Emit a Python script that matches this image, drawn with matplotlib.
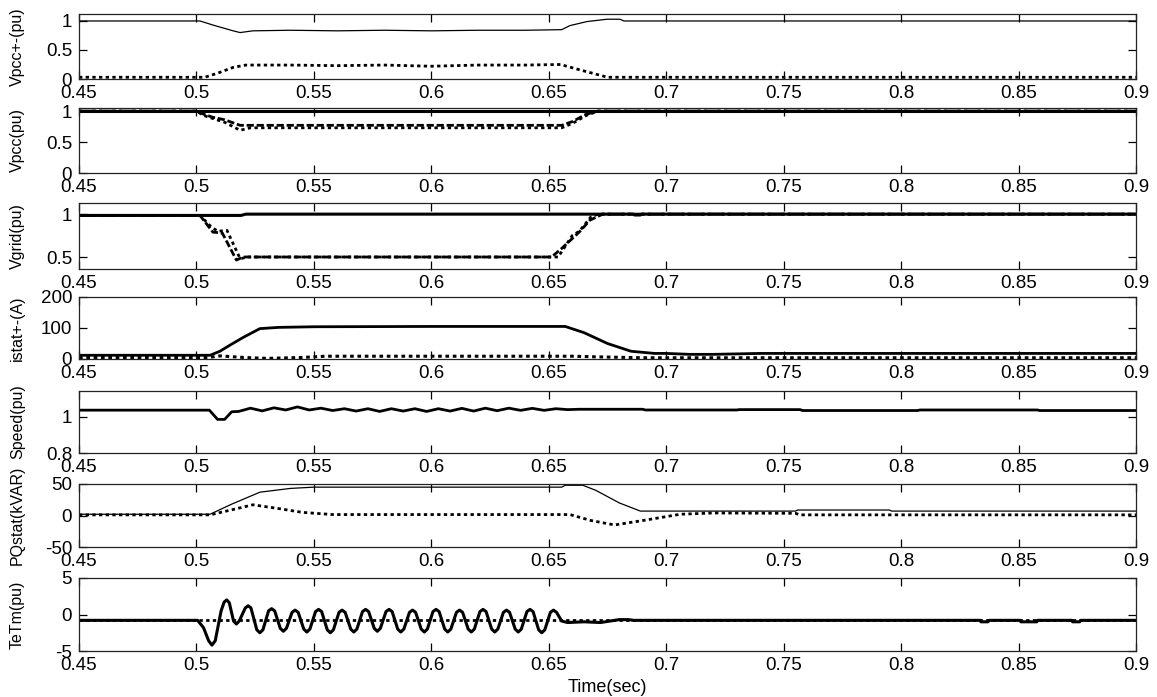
import numpy as np
import matplotlib
matplotlib.use("Agg")
import matplotlib.pyplot as plt

plt.rcParams['font.family'] = ['Liberation Sans', 'DejaVu Sans']

# ---- simulation traces (time in s) ----
vpcc_pos = [(0.45, 1.0), (0.5015, 1.0), (0.507, 0.93), (0.5156, 0.83), (0.5186, 0.80), (0.524, 0.83),
            (0.54, 0.84), (0.56, 0.83), (0.58, 0.84), (0.60, 0.83), (0.62, 0.84), (0.64, 0.84),
            (0.6555, 0.85), (0.659, 0.92), (0.6663, 0.99), (0.6748, 1.03), (0.6803, 1.03),
            (0.682, 1.0), (0.9, 1.0)]
vpcc_neg = [(0.45, 0.03), (0.5035, 0.03), (0.509, 0.10), (0.5156, 0.20), (0.521, 0.24), (0.54, 0.24),
            (0.56, 0.23), (0.58, 0.24), (0.60, 0.22), (0.62, 0.24), (0.64, 0.24), (0.655, 0.25),
            (0.663, 0.16), (0.675, 0.03), (0.9, 0.03)]

vpcc_a = [(0.45, 1.0), (0.9, 1.0)]
vpcc_b = [(0.45, 1.0), (0.5, 1.0), (0.503, 0.95), (0.507, 0.90), (0.512, 0.86), (0.5186, 0.77),
          (0.523, 0.77), (0.6555, 0.77), (0.66, 0.83), (0.666, 0.95), (0.671, 1.0), (0.9, 1.0)]
vpcc_c = [(0.45, 1.0), (0.5, 1.0), (0.503, 0.93), (0.507, 0.88), (0.512, 0.82), (0.5186, 0.69),
          (0.523, 0.73), (0.6555, 0.73), (0.66, 0.80), (0.666, 0.93), (0.671, 1.0), (0.9, 1.0)]

vgrid_a = [(0.45, 0.985), (0.519, 0.985), (0.521, 1.0), (0.686, 1.0), (0.6865, 0.99), (0.689, 0.99),
           (0.6895, 1.0), (0.9, 1.0)]
vgrid_b = [(0.45, 0.985), (0.5015, 0.985), (0.507, 0.79), (0.511, 0.78), (0.517, 0.465), (0.520, 0.50),
           (0.6512, 0.50), (0.6555, 0.60), (0.6633, 0.80), (0.6675, 0.93), (0.673, 1.0), (0.9, 1.0)]
vgrid_c = [(0.45, 0.985), (0.5015, 0.985), (0.506, 0.86), (0.509, 0.80), (0.513, 0.81), (0.5186, 0.48),
           (0.522, 0.50), (0.654, 0.50), (0.66, 0.75), (0.663, 0.80), (0.668, 0.97), (0.671, 1.0),
           (0.9, 1.0)]

istat_pos = [(0.45, 12), (0.5058, 12), (0.51, 25), (0.515, 48), (0.52, 70), (0.527, 98), (0.535, 102),
             (0.55, 104), (0.60, 105), (0.657, 105), (0.665, 85), (0.675, 50), (0.685, 25),
             (0.695, 18), (0.70, 18), (0.71, 15), (0.72, 15), (0.74, 18), (0.9, 18)]
istat_neg = [(0.45, 5), (0.505, 5), (0.51, 10), (0.52, 5), (0.53, 2), (0.545, 5), (0.555, 9),
             (0.66, 9), (0.67, 7), (0.69, 4), (0.9, 4)]

speed = [(0.45, 1.037), (0.5055, 1.037), (0.509, 0.986), (0.512, 0.986), (0.515, 1.028), (0.518, 1.030),
         (0.523, 1.048), (0.528, 1.033), (0.533, 1.050), (0.538, 1.038), (0.543, 1.055), (0.548, 1.038),
         (0.553, 1.048), (0.558, 1.035), (0.563, 1.045), (0.568, 1.032), (0.573, 1.045), (0.578, 1.030),
         (0.583, 1.045), (0.588, 1.032), (0.593, 1.045), (0.598, 1.030), (0.603, 1.045), (0.608, 1.032),
         (0.613, 1.047), (0.618, 1.032), (0.623, 1.048), (0.628, 1.034), (0.633, 1.048), (0.638, 1.036),
         (0.643, 1.047), (0.648, 1.036), (0.653, 1.045), (0.658, 1.040), (0.663, 1.042), (0.668, 1.042),
         (0.69, 1.042), (0.691, 1.038), (0.73, 1.038), (0.731, 1.040), (0.757, 1.040), (0.758, 1.035),
         (0.807, 1.035), (0.808, 1.038), (0.858, 1.038), (0.859, 1.035), (0.9, 1.035)]

pq_p = [(0.45, 2), (0.5058, 2), (0.515, 18), (0.527, 37), (0.54, 43), (0.55, 45), (0.6555, 45),
        (0.657, 48), (0.6645, 48), (0.67, 40), (0.68, 20), (0.689, 7), (0.755, 7), (0.756, 8.7),
        (0.795, 8.7), (0.796, 7), (0.9, 7)]
pq_q = [(0.45, 1), (0.5058, 1), (0.515, 9), (0.524, 17), (0.535, 11), (0.545, 5), (0.558, 1.5),
        (0.659, 1.5), (0.668, -8), (0.678, -15), (0.69, -8), (0.706, 2), (0.72, 4), (0.755, 3.5),
        (0.757, 1), (0.9, 1)]

te = [(0.45, -0.8), (0.5005, -0.8), (0.503, -1.8), (0.5052, -3.6), (0.5066, -4.2), (0.508, -3.6),
      (0.5105, 0.5), (0.5118, 1.7), (0.5129, 2.0), (0.514, 1.6), (0.5158, -0.9), (0.517, -1.3),
      (0.5182, -0.9), (0.5208, 0.9), (0.522, 1.2), (0.5232, 0.9), (0.5257, -2.1), (0.527, -2.5),
      (0.5283, -2.1),
      (0.5307, 0.5), (0.532, 0.8), (0.5333, 0.5), (0.5357, -1.9), (0.537, -2.3), (0.5383, -1.9),
      (0.5407, 0.3), (0.542, 0.6), (0.5433, 0.3), (0.5457, -2.0), (0.547, -2.4), (0.5483, -2.0),
      (0.5507, 0.4), (0.552, 0.7), (0.5533, 0.4), (0.5557, -2.1), (0.557, -2.5), (0.5583, -2.1),
      (0.5607, 0.3), (0.562, 0.6), (0.5633, 0.3), (0.5657, -2.0), (0.567, -2.4), (0.5683, -2.0),
      (0.5707, 0.4), (0.572, 0.7), (0.5733, 0.4), (0.5757, -1.9), (0.577, -2.3), (0.5783, -1.9),
      (0.5807, 0.4), (0.582, 0.7), (0.5833, 0.4), (0.5857, -2.0), (0.587, -2.4), (0.5883, -2.0),
      (0.5907, 0.3), (0.592, 0.6), (0.5933, 0.3), (0.5957, -2.0), (0.597, -2.4), (0.5983, -2.0),
      (0.6007, 0.4), (0.602, 0.7), (0.6033, 0.4), (0.6057, -2.0), (0.607, -2.4), (0.6083, -2.0),
      (0.6107, 0.3), (0.612, 0.6), (0.6133, 0.3), (0.6157, -2.0), (0.617, -2.4), (0.6183, -2.0),
      (0.6207, 0.4), (0.622, 0.7), (0.6233, 0.4), (0.6257, -2.0), (0.627, -2.4), (0.6283, -2.0),
      (0.6307, 0.3), (0.632, 0.6), (0.6333, 0.3), (0.6357, -2.0), (0.637, -2.4), (0.6383, -2.0),
      (0.6407, 0.4), (0.642, 0.7), (0.6433, 0.4), (0.6457, -2.1), (0.647, -2.5), (0.6483, -2.1),
      (0.6507, 0.3), (0.652, 0.6), (0.6533, 0.3), (0.6555, -0.9), (0.658, -1.1),
      (0.665, -1.0), (0.672, -1.1), (0.68, -0.7), (0.684, -0.7), (0.686, -0.8), (0.8336, -0.8),
      (0.834, -1.0), (0.837, -1.0), (0.8375, -0.8), (0.8506, -0.8), (0.851, -1.0), (0.8578, -1.0),
      (0.858, -0.8), (0.8727, -0.8), (0.873, -1.0), (0.876, -1.0), (0.8765, -0.8), (0.9, -0.8)]
tm = [(0.45, -0.8), (0.9, -0.8)]

ylabels = ['Vpcc+-(pu)', 'Vpcc(pu)', 'Vgrid(pu)', 'istat+-(A)', 'Speed(pu)', 'PQstat(kVAR)', 'TeTm(pu)']
ylims = [(0, 1.12), (0, 1.05), (0.36, 1.13), (0, 200), (0.8, 1.143), (-50, 50), (-5, 5)]
yticks = [[0, 0.5, 1], [0, 0.5, 1], [0.5, 1], [0, 100, 200], [0.8, 1], [-50, 0, 50], [-5, 0, 5]]
ytick_labels = [['0', '0.5', '1'], ['0', '0.5', '1'], ['0.5', '1'], ['0', '100', '200'],
                ['0.8', '1'], ['-50', '0', '50'], ['-5', '0', '5']]
xticks = [0.45, 0.5, 0.55, 0.6, 0.65, 0.7, 0.75, 0.8, 0.85, 0.9]
xtick_labels = ['0.45', '0.5', '0.55', '0.6', '0.65', '0.7', '0.75', '0.8', '0.85', '0.9']

DOT = (0, (1.2, 1.2))
DASH = (0, (2.6, 1.0))
# (data, linestyle, linewidth) for every panel
panels = [
    [(vpcc_pos, '-', 0.9), (vpcc_neg, DOT, 2.0)],
    [(vpcc_c, DOT, 2.0), (vpcc_b, DASH, 2.0), (vpcc_a, '-', 2.2)],
    [(vgrid_c, DOT, 2.0), (vgrid_b, DASH, 2.0), (vgrid_a, '-', 2.2)],
    [(istat_pos, '-', 2.0), (istat_neg, DOT, 2.2)],
    [(speed, '-', 2.0)],
    [(pq_p, '-', 0.9), (pq_q, DOT, 2.0)],
    [(te, '-', 2.2), (tm, DOT, 2.0)],
]

W, H = 1157, 697
frames = [(14, 79), (108, 173), (203, 269), (297, 359), (391, 453), (484, 547), (578, 651)]
x0, x1 = 79, 1136

fig = plt.figure(figsize=(W / 100, H / 100), dpi=100)
for i, (top, bot) in enumerate(frames):
    ax = fig.add_axes([x0 / W, 1 - bot / H, (x1 - x0) / W, (bot - top) / H])
    for data, ls, lw in panels[i]:
        t, v = np.array(data, dtype=float).T
        ax.plot(t, v, color='black', linestyle=ls, linewidth=lw,
                solid_joinstyle='round', dash_capstyle='butt')
    ax.set_xlim(0.45, 0.9)
    ax.set_ylim(*ylims[i])
    ax.set_xticks(xticks)
    ax.set_xticklabels(xtick_labels)
    ax.set_yticks(yticks[i])
    ax.set_yticklabels(ytick_labels[i])
    ax.tick_params(direction='in', top=True, right=True, length=6, width=0.9,
                   labelsize=13.5, colors='black')
    ax.tick_params(axis='x', pad=4)
    ax.tick_params(axis='y', pad=5)
    for s in ax.spines.values():
        s.set_linewidth(0.9)
        s.set_color('#222222')
    ax.set_ylabel(ylabels[i], fontsize=11.5)
    ax.yaxis.set_label_coords(-0.051, 0.5)
    if i == len(frames) - 1:
        ax.set_xlabel('Time(sec)', fontsize=13, labelpad=4)

fig.savefig('out.png', dpi=100)
